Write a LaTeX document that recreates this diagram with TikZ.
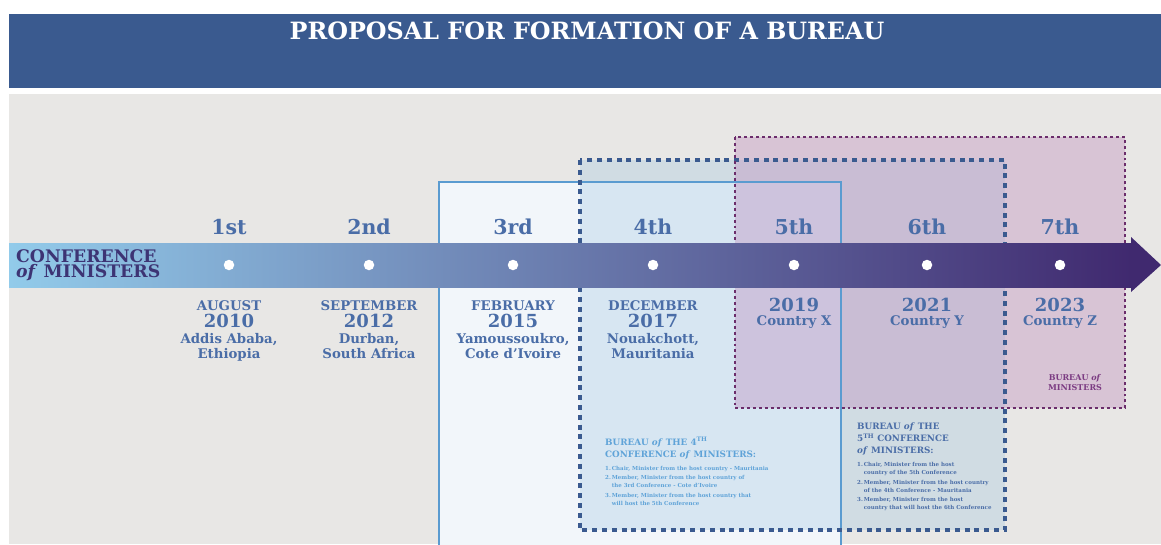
\documentclass[tikz,border=0pt]{standalone}
\usepackage{fontspec}
\setmainfont{DejaVu Serif}
\usepackage{tikz}
\usetikzlibrary{positioning}

\definecolor{hdrblue}{HTML}{3A5A8F}
\definecolor{panelgray}{HTML}{E8E7E5}
\definecolor{txtblue}{HTML}{4A6DA7}
\definecolor{lightblue}{HTML}{5FA3D8}
\definecolor{boxline}{HTML}{5A9BD0}
\definecolor{boxfill}{HTML}{F2F6FA}
\definecolor{dotblue}{HTML}{3A5A8F}
\definecolor{tintblue}{HTML}{92C0DE}
\definecolor{dotpurple}{HTML}{6B2D6B}
\definecolor{tintpurple}{HTML}{C090BE}
\definecolor{arrowstart}{HTML}{92CBEA}
\definecolor{arrowmid}{HTML}{6E85B8}
\definecolor{arrowend}{HTML}{40296F}
\definecolor{confpurple}{HTML}{3D3474}
\definecolor{bureaupurple}{HTML}{7B3B82}

\tikzstyle{ord}=[font=\fontsize{20.5}{20.5}\selectfont\bfseries,text=txtblue,inner sep=0pt]
\tikzstyle{month}=[font=\fontsize{13.3}{13.3}\selectfont\bfseries,text=txtblue,inner sep=0pt,anchor=base]
\tikzstyle{yr}=[font=\fontsize{18}{18}\selectfont\bfseries,text=txtblue,inner sep=0pt]
\tikzstyle{place}=[font=\fontsize{13.3}{14.5}\selectfont\bfseries,text=txtblue,inner sep=0pt,align=center]
\tikzstyle{dot}=[circle,fill=white,minimum size=10.5pt,inner sep=0pt]
\tikzstyle{bhead}=[font=\fontsize{8.8}{12}\selectfont\bfseries,inner sep=0pt,align=left,anchor=north west]
\tikzstyle{blist}=[font=\fontsize{5.5}{8}\selectfont\bfseries,inner sep=0pt,align=left,anchor=north west]
\tikzstyle{bluedots}=[draw=dotblue,line width=3.5pt,dash pattern=on 5pt off 4.8pt]
\tikzstyle{purpledots}=[draw=dotpurple,line width=2.9pt,dash pattern=on 2.9pt off 3pt]

\begin{document}
\begin{tikzpicture}[x=1pt,y=-1pt]
    \useasboundingbox (0,0) rectangle (1161,544);
    \fill[white] (0,0) rectangle (1161,544);
    % header
    \fill[hdrblue] (9,14) rectangle (1161,88);
    \node (title) [text=white,font=\fontsize{23.8}{23.8}\selectfont\bfseries] at (587,31) {PROPOSAL FOR FORMATION OF A BUREAU};
    \fill[panelgray] (9,94) rectangle (1161,544);

    % bureau boxes
    \fill[boxfill] (439,182) rectangle (841,546);
    \fill[tintblue,fill opacity=0.28] (580,160) rectangle (1005,530);
    \fill[tintpurple,fill opacity=0.4] (735,137) rectangle (1125,408);
    \draw[boxline,line width=2.5pt] (439,546) -- (439,182) -- (841,182) -- (841,546);
    \draw[bluedots] (580,160) rectangle (1005,530);
    \draw[purpledots] (735,137) rectangle (1125,408);

    % timeline arrow
    \shade[left color=arrowstart,middle color=arrowmid,right color=arrowend] (9,243) rectangle (1132,287);
    \fill[arrowend] (1131,237) -- (1161,265) -- (1131,292) -- cycle;

    \node (conf) [text=confpurple,font=\fontsize{17.3}{15.5}\selectfont\bfseries,align=left,inner sep=0pt,anchor=west] at (16,265) {CONFERENCE\\\textit{of} MINISTERS};

    \node (d1) [dot] at (229,265) {};
    \node (d2) [dot] at (369,265) {};
    \node (d3) [dot] at (513,265) {};
    \node (d4) [dot] at (653,265) {};
    \node (d5) [dot] at (794,265) {};
    \node (d6) [dot] at (927,265) {};
    \node (d7) [dot] at (1060,265) {};

    \node (o1) [ord] at (229,227) {1st};
    \node (o2) [ord] at (369,227) {2nd};
    \node (o3) [ord] at (513,227) {3rd};
    \node (o4) [ord] at (653,227) {4th};
    \node (o5) [ord] at (794,227) {5th};
    \node (o6) [ord] at (927,227) {6th};
    \node (o7) [ord] at (1060,227) {7th};

    % dates and venues
    \node (m1) [month] at (229,310) {AUGUST};
    \node (y1) [yr,below=4pt of m1] {2010};
    \node (p1) [place,below=5pt of y1] {Addis Ababa,\\Ethiopia};
    \node (m2) [month] at (369,310) {SEPTEMBER};
    \node (y2) [yr,below=4pt of m2] {2012};
    \node (p2) [place,below=5pt of y2] {Durban,\\South Africa};
    \node (m3) [month] at (513,310) {FEBRUARY};
    \node (y3) [yr,below=4pt of m3] {2015};
    \node (p3) [place,below=5pt of y3] {Yamoussoukro,\\Cote d’Ivoire};
    \node (m4) [month] at (653,310) {DECEMBER};
    \node (y4) [yr,below=4pt of m4] {2017};
    \node (p4) [place,below=5pt of y4] {Nouakchott,\\Mauritania};
    \node (y5) [yr] at (794,305) {2019};
    \node (p5) [place,below=3.5pt of y5] {Country X};
    \node (y6) [yr] at (927,305) {2021};
    \node (p6) [place,below=3.5pt of y6] {Country Y};
    \node (y7) [yr] at (1060,305) {2023};
    \node (p7) [place,below=3.5pt of y7] {Country Z};

    \node (bm) [text=bureaupurple,font=\fontsize{8}{10}\selectfont\bfseries,align=center,inner sep=0pt] at (1075,383) {BUREAU \textit{of}\\MINISTERS};

    % bureau of the 4th conference
    \node (b4) [bhead,text=lightblue] at (605,437) {BUREAU \textit{of} THE 4\textsuperscript{TH}\\CONFERENCE \textit{of} MINISTERS:};
    \node (l4) [blist,text=lightblue] at ([yshift=-5pt]b4.south west) {%
      \begin{tabular}{@{}l@{\,}l@{}}
      1. & Chair, Minister from the host country - Mauritania\\[1.5pt]
      2. & Member, Minister from the host country of\\
         & the 3rd Conference - Cote d’Ivoire\\[1.5pt]
      3. & Member, Minister from the host country that\\
         & will host the 5th Conference
      \end{tabular}};

    % bureau of the 5th conference
    \node (b5) [bhead,text=txtblue] at (857,423) {BUREAU \textit{of} THE\\5\textsuperscript{TH} CONFERENCE\\\textit{of} MINISTERS:};
    \node (l5) [blist,text=txtblue] at ([yshift=-5pt]b5.south west) {%
      \begin{tabular}{@{}l@{\,}l@{}}
      1. & Chair, Minister from the host\\
         & country of the 5th Conference\\[1.5pt]
      2. & Member, Minister from the host country\\
         & of the 4th Conference - Mauritania\\[1.5pt]
      3. & Member, Minister from the host\\
         & country that will host the 6th Conference
      \end{tabular}};
\end{tikzpicture}
\end{document}
